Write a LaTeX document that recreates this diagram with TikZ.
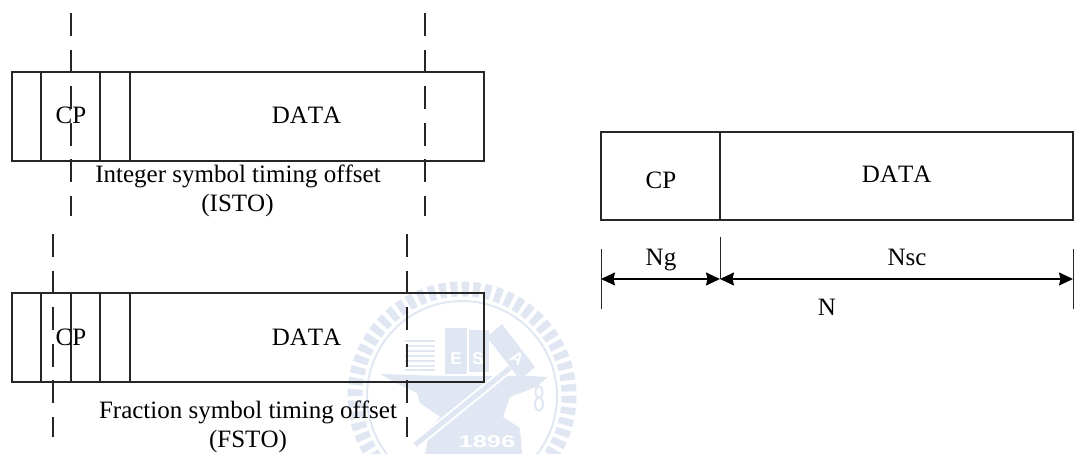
\documentclass[tikz,border=0pt]{standalone}
\usepackage{fontspec}
\setmainfont[Kerning=Off]{Liberation Serif}
\setsansfont{Liberation Sans}
\usetikzlibrary{arrows.meta}
\definecolor{seal}{HTML}{E1E7F2}
\tikzset{
  x=1pt,y=-1pt,
  box/.style={draw=black!85,line width=1.2pt},
  rule/.style={draw=black!85,line width=1.2pt},
  cut/.style={draw=black!85,line width=1.2pt,dash pattern=on 23pt off 13.6pt},
  tick/.style={draw=black!85,line width=1pt},
  span/.style={draw=black,line width=1.5pt,{Stealth[length=14pt,width=13pt,inset=1.5pt]}-{Stealth[length=14pt,width=13pt,inset=1.5pt]}},
  txt/.style={font=\fontsize{25}{25}\selectfont,inner sep=0pt,text=black,anchor=base},
  sealtxt/.style={font=\sffamily\bfseries\fontsize{17}{17}\selectfont,inner sep=0pt,text=white,anchor=base}
}
\begin{document}
\begin{tikzpicture}
\useasboundingbox (0,0) rectangle (1074,454);
% watermark
\begin{scope}
\clip (0,0) rectangle (1074,454);
\draw[seal,line width=15pt,dash pattern=on 7pt off 4.2pt] (462,396) circle[radius=107];
\draw[seal,line width=2pt] (462,396) circle[radius=95];
\foreach \y in {341,346,351,356,361,366,370}{\draw[seal,line width=2.5pt] (405,\y) -- (435,\y);}
\fill[seal] (445,328) rectangle (467,374);
\fill[seal] (469,330) rectangle (489,372);
\fill[seal] (380,374) -- (442,376) -- (530,376) -- (548,377) -- (536,387) -- (510,397) -- (503,417) -- (520,428) -- (522,454) -- (425,454) -- (430,428) -- (440,417) -- (420,403) -- (417,393) -- (400,385) -- cycle;
\draw[white,line width=9pt] (510,368) -- (415,445);
\draw[seal,line width=5pt] (510,368) -- (415,445);
\fill[seal] (502,324) -- (535,367) -- (520,380) -- (487,337) -- cycle;
\draw[seal,line width=2pt] (539,392) ellipse[x radius=3.5,y radius=6];
\draw[seal,line width=2pt] (539,404) ellipse[x radius=4,y radius=6.5];
\node[sealtxt] (s1) at (456,364) {E};
\node[sealtxt] (s2) at (478,364) {S};
\node[sealtxt,rotate=-35] (s3) at (514,363) {A};
\node[sealtxt,xscale=1.5] (s4) at (487,447) {1896};
\end{scope}
% top frame
\coordinate (a1) at (12,72); \coordinate (a2) at (484,161);
\draw[box] (a1) rectangle (a2);
\foreach \i/\x in {1/41,2/100,3/130}{\draw[rule] (\x,72) -- (\x,161);}
\node[txt] (cp1) at (71,124) {CP};
\node[txt] (data1) at (306.5,124) {DATA};
\node[txt] (isto1) at (238,183) {Integer symbol timing offset};
\node[txt] (isto2) at (237.5,212) {(ISTO)};
\coordinate (c1t) at (71,13); \coordinate (c1b) at (71,216);
\coordinate (c2t) at (425,13); \coordinate (c2b) at (425,216);
\draw[cut] (c1t) -- (c1b);
\draw[cut] (c2t) -- (c2b);
% bottom frame
\coordinate (b1) at (12,293); \coordinate (b2) at (484,382);
\draw[box] (b1) rectangle (b2);
\foreach \i/\x in {1/41,2/71,3/100,4/130}{\draw[rule] (\x,293) -- (\x,382);}
\node[txt] (cp2) at (71,345) {CP};
\node[txt] (data2) at (306.5,345) {DATA};
\node[txt] (fsto1) at (248,418) {Fraction symbol timing offset};
\node[txt] (fsto2) at (248,447) {(FSTO)};
\coordinate (c3t) at (53,234); \coordinate (c3b) at (53,437);
\coordinate (c4t) at (407,234); \coordinate (c4b) at (407,437);
\draw[cut] (c3t) -- (c3b);
\draw[cut] (c4t) -- (c4b);
% right frame
\coordinate (r1) at (601,132); \coordinate (r2) at (1073,220);
\draw[box] (r1) rectangle (r2);
\draw[rule] (720,132) -- (720,220);
\node[txt] (cp3) at (661,189) {CP};
\node[txt] (data3) at (896.7,183) {DATA};
\node[txt] (ng) at (661,266) {Ng};
\node[txt] (nsc) at (907,266) {Nsc};
\node[txt] (n) at (827,316) {N};
\coordinate (tl) at (601,249); \coordinate (tlb) at (601,309);
\coordinate (tm) at (720,237); \coordinate (tmb) at (720,279);
\coordinate (tr) at (1073,249); \coordinate (trb) at (1073,309);
\coordinate (al) at (601,279); \coordinate (ar) at (1073,279);
\draw[tick] (tl) -- (tlb);
\draw[tick] (tm) -- (tmb);
\draw[tick] (tr) -- (trb);
\draw[span] (al) -- (tmb);
\draw[span] (tmb) -- (ar);
\end{tikzpicture}
\end{document}
